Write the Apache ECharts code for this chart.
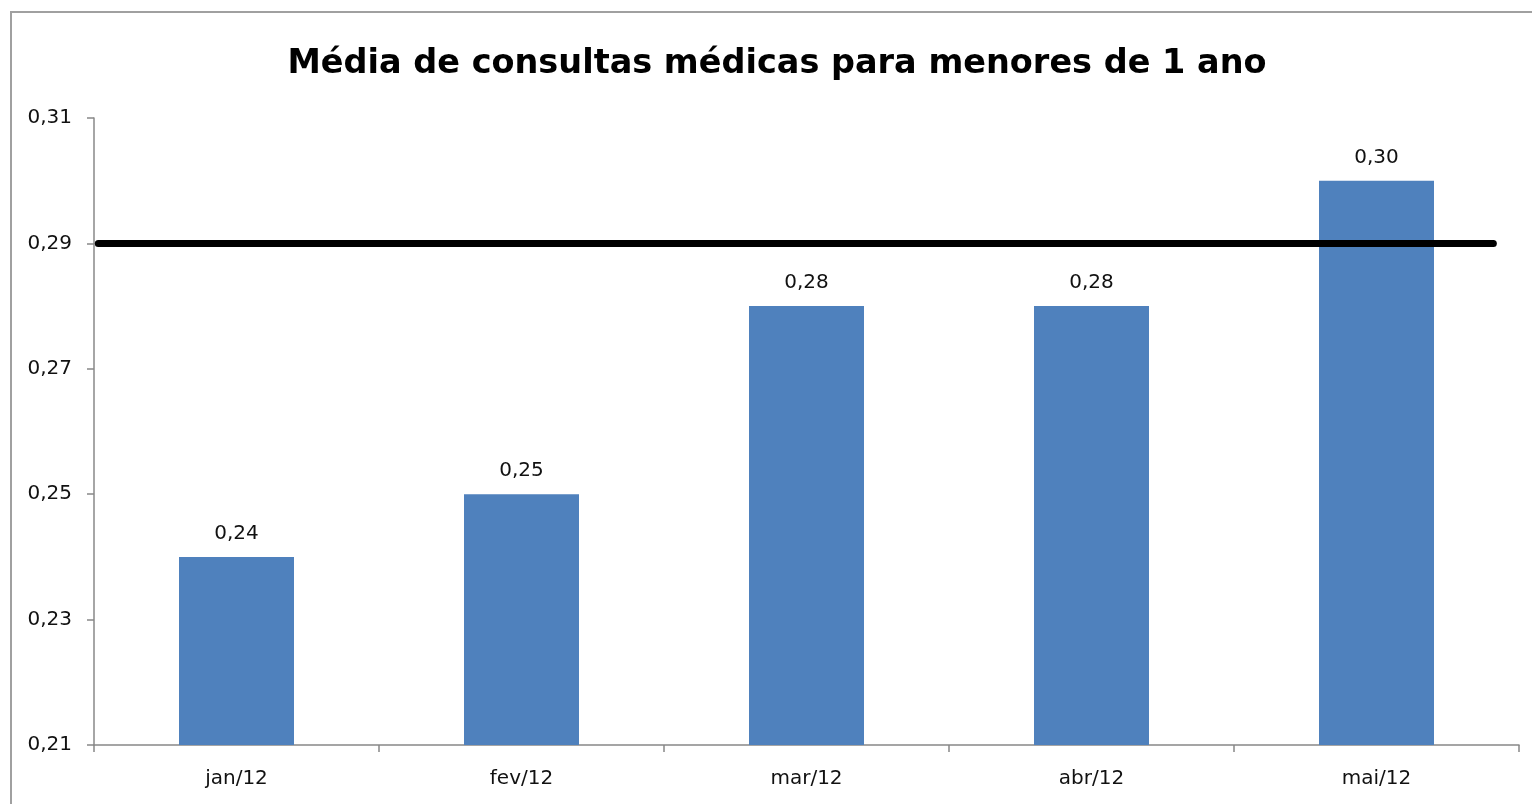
<!DOCTYPE html>
<html><head><meta charset="utf-8">
<script src="https://cdn.jsdelivr.net/npm/echarts@6/dist/echarts.min.js"></script>
<style>html,body{margin:0;padding:0;background:#fff}#frame{position:absolute;left:10px;top:11px;width:1540px;height:820px;border:2px solid #a0a0a0;box-sizing:border-box}#c{position:absolute;left:0;top:0;width:1532px;height:804px}</style>
</head><body><div id="frame"></div><div id="c"></div>
<script>
const categories = ['jan/12','fev/12','mar/12','abr/12','mai/12'];
const values = [0.24, 0.25, 0.28, 0.28, 0.30];
const targetValue = 0.29;
const targetSpan = [0.015, 4.91];
const yTicks = [0.21, 0.23, 0.25, 0.27, 0.29, 0.31];
const title = 'Média de consultas médicas para menores de 1 ano';

const fmt = v => v.toFixed(2).replace('.', ',');
const chart = echarts.init(document.getElementById('c'));
chart.setOption({
  animation: false,
  title: {text: title, left: 772, top: 42, textAlign: 'center',
    textStyle: {fontFamily: 'DejaVu Sans', fontWeight: 'bold', fontSize: 33.5, color: '#000'}},
  grid: {left: 94, right: 13, top: 118, bottom: 59},
  xAxis: [{type: 'category', data: categories,
    axisLine: {lineStyle: {color: '#888', width: 1.5}},
    axisTick: {show: true, length: 7, lineStyle: {color: '#888', width: 1.5}},
    axisLabel: {color: '#111', fontFamily: 'DejaVu Sans', fontSize: 20, margin: 24}},
   {type: 'value', min: 0, max: 5, show: false}],
  yAxis: {type: 'value', min: yTicks[0], max: yTicks[yTicks.length-1], interval: 0.02,
    axisLine: {show: true, lineStyle: {color: '#888', width: 1.5}},
    axisTick: {show: true, length: 7, lineStyle: {color: '#888', width: 1.5}},
    splitLine: {show: false},
    axisLabel: {color: '#111', fontFamily: 'DejaVu Sans', fontSize: 20, margin: 22, formatter: fmt}},
  series: [
    {type: 'bar', data: values, barWidth: 115, itemStyle: {color: '#4f81bd'},
     label: {show: true, position: 'top', distance: 13, color: '#111', fontFamily: 'DejaVu Sans', fontSize: 20, formatter: p => fmt(p.value)}},
    {type: 'line', xAxisIndex: 1, data: targetSpan.map(x => [x, targetValue]), symbol: 'none',
     lineStyle: {color: '#000', width: 7, cap: 'round'}, z: 5}
  ]
});
</script></body></html>
